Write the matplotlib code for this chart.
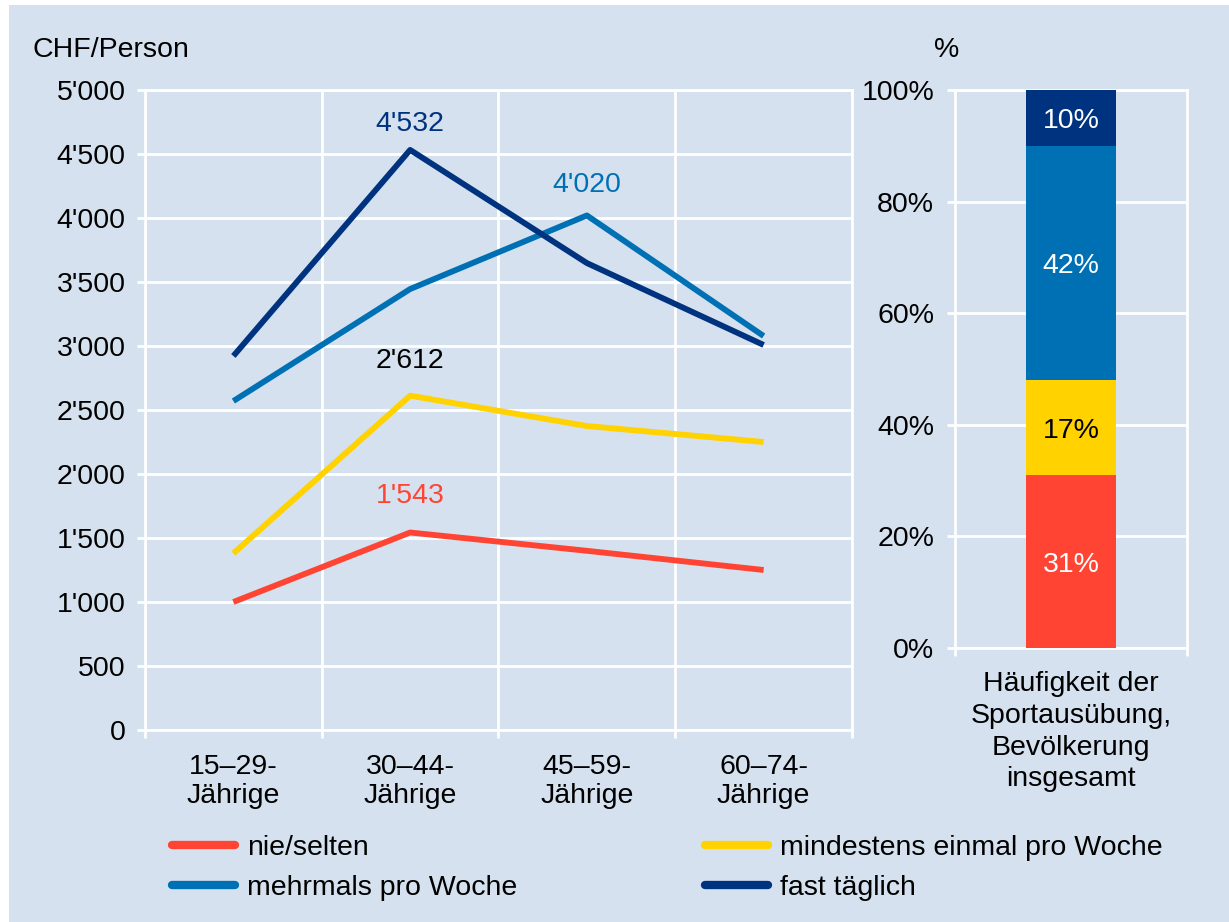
import matplotlib.pyplot as plt
from matplotlib.patches import Rectangle

plt.rcParams['font.family'] = ['Liberation Sans', 'DejaVu Sans']

# data
age_groups = ['15–29-\nJährige', '30–44-\nJährige', '45–59-\nJährige', '60–74-\nJährige']
nie_selten = [1000, 1543, 1400, 1250]
einmal_woche = [1380, 2612, 2375, 2250]
mehrmals_woche = [2570, 3445, 4020, 3078]
fast_taeglich = [2922, 4532, 3648, 3008]

share_labels = ['nie/selten', 'mindestens einmal pro Woche', 'mehrmals pro Woche', 'fast täglich']
share_values = [31, 17, 42, 10]

bg = '#d5e1ee'
c_red = '#ff4433'
c_yellow = '#ffd200'
c_blue = '#0070b4'
c_navy = '#00337f'
fs = 20.5

fig = plt.figure(figsize=(12.29, 9.22), dpi=100, facecolor='white')
fig.patches.append(Rectangle((9 / 1229, 0), 1, 917 / 922, transform=fig.transFigure,
                             facecolor=bg, edgecolor='none', zorder=-10))


def fmt(v):
    return f"{int(v):,}".replace(",", "'")


def style_axes(ax):
    ax.set_facecolor(bg)
    for s in ax.spines.values():
        s.set_color('white')
        s.set_linewidth(2)
    ax.tick_params(colors='white', width=2, length=6, labelcolor='black', labelsize=fs)
    ax.grid(True, color='white', linewidth=2)
    ax.set_axisbelow(True)


# left: line chart
ax = fig.add_axes([145 / 1229, 192 / 922, 707 / 1229, 640 / 922])
style_axes(ax)
x = range(len(age_groups))
series = [(nie_selten, c_red), (einmal_woche, c_yellow), (mehrmals_woche, c_blue), (fast_taeglich, c_navy)]
for vals, col in series:
    ax.plot(x, vals, color=col, linewidth=4.2, solid_capstyle='butt', zorder=3)

ax.set_xlim(-0.5, 3.5)
ax.set_ylim(0, 5000)
ax.set_yticks(range(0, 5001, 500))
ax.set_yticklabels([fmt(v) for v in range(0, 5001, 500)])
ax.set_xticks([-0.5, 0.5, 1.5, 2.5, 3.5])
ax.set_xticklabels([])
ax.set_xticks(list(x), minor=True)
ax.set_xticklabels(age_groups, minor=True, fontsize=fs, linespacing=1.15)
ax.tick_params(axis='x', which='minor', length=0, pad=17)
ax.tick_params(axis='y', pad=8)
fig.text(33 / 1229, 872 / 922, 'CHF/Person', fontsize=fs, va='center')

# value labels
ax.annotate(fmt(fast_taeglich[1]), (1, fast_taeglich[1]), xytext=(0, 19), textcoords='offset points',
            ha='center', va='center', fontsize=fs, color=c_navy)
ax.annotate(fmt(mehrmals_woche[2]), (2, mehrmals_woche[2]), xytext=(0, 22), textcoords='offset points',
            ha='center', va='center', fontsize=fs, color=c_blue)
ax.annotate(fmt(einmal_woche[1]), (1, einmal_woche[1]), xytext=(0, 25), textcoords='offset points',
            ha='center', va='center', fontsize=fs, color='black')
ax.annotate(fmt(nie_selten[1]), (1, nie_selten[1]), xytext=(0, 26), textcoords='offset points',
            ha='center', va='center', fontsize=fs, color=c_red)

# right: stacked bar
ax2 = fig.add_axes([955 / 1229, 274 / 922, 232 / 1229, 558 / 922])
style_axes(ax2)
ax2.grid(axis='x', visible=False)
bottom = 0
bar_colors = [c_red, c_yellow, c_blue, c_navy]
text_colors = ['white', 'black', 'white', 'white']
for v, col, tc in zip(share_values, bar_colors, text_colors):
    ax2.bar(0.5, v, bottom=bottom, width=90 / 232, color=col, zorder=3)
    ax2.text(0.5, bottom + v / 2, f'{v}%', ha='center', va='center_baseline', fontsize=fs, color=tc, zorder=4)
    bottom += v
ax2.set_xlim(0, 1)
ax2.set_ylim(0, 100)
ax2.set_yticks(range(0, 101, 20))
ax2.set_yticklabels([f'{v}%' for v in range(0, 101, 20)])
ax2.set_xticks([0, 1])
ax2.set_xticklabels([])
ax2.tick_params(axis='y', pad=9)
ax2.text(0.5, -0.042, 'Häufigkeit der\nSportausübung,\nBevölkerung\ninsgesamt', transform=ax2.transAxes,
         ha='center', va='top', fontsize=fs, linespacing=1.28)
fig.text(947 / 1229, 872 / 922, '%', fontsize=fs, ha='center', va='center')

# legend, two columns placed separately
handles = [plt.Line2D([], [], color=c, linewidth=6, solid_capstyle='round') for c in bar_colors]
leg_kw = dict(loc='center left', frameon=False, fontsize=fs, handlelength=2.2, handletextpad=0.45,
              labelspacing=0.5, borderpad=0, borderaxespad=0)
leg1 = fig.legend([handles[0], handles[2]], [share_labels[0], share_labels[2]],
                  bbox_to_anchor=(172 / 1229, 54 / 922), **leg_kw)
leg2 = fig.legend([handles[1], handles[3]], [share_labels[1], share_labels[3]],
                  bbox_to_anchor=(705 / 1229, 54 / 922), **leg_kw)

fig.savefig('out.png', dpi=100, facecolor=fig.get_facecolor())
